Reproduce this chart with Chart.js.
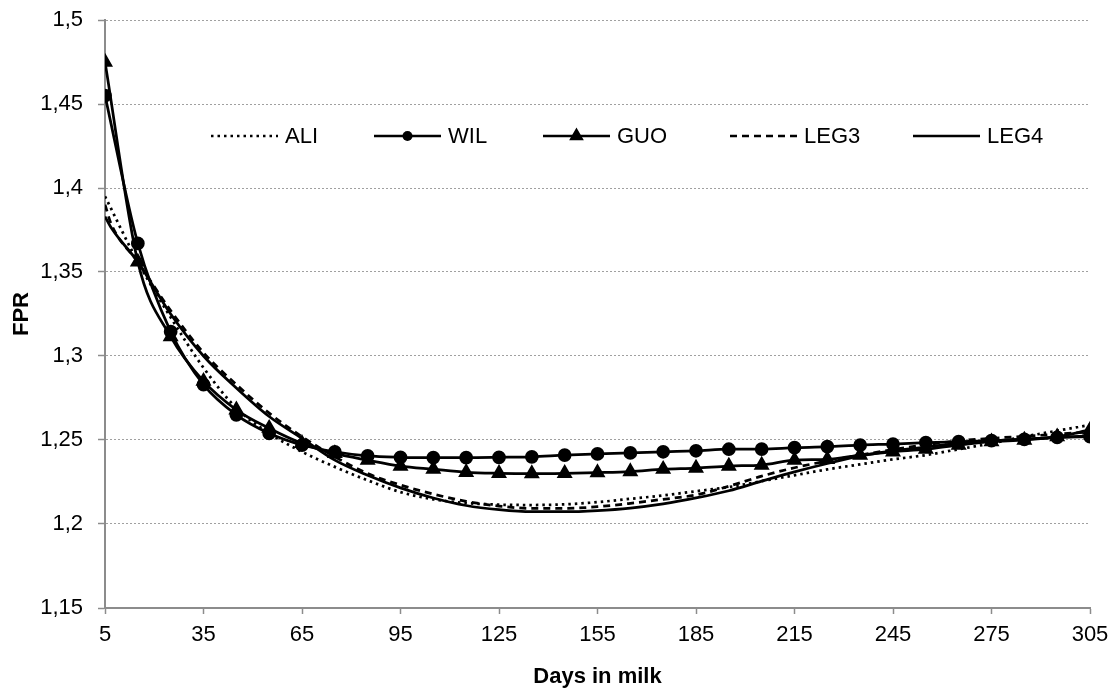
<!DOCTYPE html>
<html><head><meta charset="utf-8">
<script src="https://cdn.jsdelivr.net/npm/chart.js@4/dist/chart.umd.min.js"></script>
<style>html,body{margin:0;padding:0;background:#fff;}#wrap{width:1116px;height:693px;}</style>
</head><body><div id="wrap"><canvas id="c" width="1116" height="693"></canvas></div>
<script>
const days = [5,15,25,35,45,55,65,75,85,95,105,115,125,135,145,155,165,175,185,195,205,215,225,235,245,255,265,275,285,295,305];
const legDays = [5,7,15,25,35,45,55,65,75,85,95,105,115,125,135,145,155,165,175,185,195,205,215,225,235,245,255,265,275,285,295,305];
const xTicks = [5,35,65,95,125,155,185,215,245,275,305];
const yTicks = [1.15,1.2,1.25,1.3,1.35,1.4,1.45,1.5];
const yTickLabels = ['1,15','1,2','1,25','1,3','1,35','1,4','1,45','1,5'];
const seriesNames = ['ALI','WIL','GUO','LEG3','LEG4'];
const ALI = [1.395,1.356,1.323,1.293,1.269,1.254,1.243,1.234,1.226,1.219,1.2147,1.2125,1.2115,1.2113,1.2117,1.213,1.215,1.217,1.2195,1.222,1.2255,1.229,1.2325,1.2355,1.2385,1.241,1.2445,1.248,1.252,1.2555,1.259];
const WIL = [1.455,1.367,1.3145,1.283,1.265,1.254,1.247,1.243,1.2405,1.2397,1.2395,1.2395,1.2397,1.240,1.241,1.2417,1.2423,1.243,1.2436,1.2445,1.2446,1.2454,1.246,1.247,1.2476,1.2484,1.249,1.2496,1.2504,1.2516,1.252];
const GUO = [1.475,1.356,1.3115,1.285,1.268,1.257,1.248,1.242,1.238,1.2345,1.2326,1.2308,1.2302,1.230,1.2302,1.2306,1.2312,1.2326,1.2333,1.2345,1.2351,1.238,1.2385,1.241,1.243,1.2445,1.247,1.249,1.250,1.252,1.256];
const LEG3 = [1.390,1.378,1.356,1.327,1.302,1.283,1.266,1.252,1.240,1.230,1.2232,1.2178,1.2135,1.2107,1.2093,1.2093,1.2103,1.2123,1.2147,1.2173,1.2225,1.2285,1.2335,1.2375,1.241,1.2443,1.2472,1.2495,1.251,1.2522,1.2535,1.2548];
const LEG4 = [1.383,1.376,1.356,1.325,1.300,1.281,1.264,1.251,1.238,1.229,1.2215,1.2155,1.211,1.2085,1.2073,1.2073,1.208,1.2095,1.212,1.2155,1.2198,1.2255,1.231,1.236,1.2405,1.2435,1.2458,1.248,1.2495,1.2505,1.2515,1.2525];

const pts = (xs, ys) => xs.map((x,i)=>({x:x,y:ys[i]}));
const FONT = "'Liberation Sans',Arial,sans-serif";

const base = {borderColor:'#000', backgroundColor:'#000', borderWidth:2.75, fill:false, cubicInterpolationMode:'monotone', pointRadius:0};
const datasets = [
  Object.assign({}, base, {label:seriesNames[0], data:pts(days,ALI), borderDash:[2.5,4]}),
  Object.assign({}, base, {label:seriesNames[1], data:pts(days,WIL), pointRadius:5.5, pointStyle:'circle'}),
  Object.assign({}, base, {label:seriesNames[2], data:pts(days,GUO), pointRadius:6.5, pointStyle:'triangle'}),
  Object.assign({}, base, {label:seriesNames[3], data:pts(legDays,LEG3), borderDash:[7,5]}),
  Object.assign({}, base, {label:seriesNames[4], data:pts(legDays,LEG4)})
];

const legendPlugin = {
  id:'inlegend',
  afterDraw(chart){
    const ctx = chart.ctx;
    const starts = [211,374,543,730,913];
    const y = 136;
    ctx.save();
    chart.data.datasets.forEach((ds,i)=>{
      const x0 = starts[i], x1 = x0+67;
      ctx.strokeStyle = '#000'; ctx.lineWidth = 2.5;
      ctx.setLineDash(ds.borderDash || []);
      ctx.beginPath(); ctx.moveTo(x0,y); ctx.lineTo(x1,y); ctx.stroke();
      ctx.setLineDash([]);
      ctx.fillStyle='#000';
      if (ds.pointStyle === 'circle') {
        ctx.beginPath(); ctx.arc((x0+x1)/2, y, 5, 0, Math.PI*2); ctx.fill();
      } else if (ds.pointStyle === 'triangle') {
        Chart.helpers.drawPoint(ctx, {pointStyle:'triangle', radius:6, borderWidth:1}, (x0+x1)/2, y);
        ctx.fill();
      }
      ctx.font = "22px " + FONT;
      ctx.textBaseline = 'middle';
      ctx.textAlign = 'left';
      ctx.fillText(ds.label, x1+7, y+1);
    });
    ctx.restore();
  }
};

new Chart(document.getElementById('c'), {
  type:'line',
  data:{datasets:datasets},
  plugins:[legendPlugin],
  options:{
    responsive:false, animation:false,
    layout:{padding:{top:20,right:26,left:0,bottom:0}},
    plugins:{legend:{display:false}, tooltip:{enabled:false}},
    elements:{point:{borderWidth:1, hoverRadius:0}},
    scales:{
      x:{
        type:'linear', min:5, max:305,
        afterBuildTicks: s => { s.ticks = xTicks.map(v=>({value:v})); },
        afterFit: s => { s.height = 85; s.paddingLeft = 0; s.paddingRight = 0; },
        grid:{drawOnChartArea:false, drawTicks:true, tickLength:6, tickColor:'#8c8c8c', tickWidth:1.5},
        border:{display:true, color:'#8c8c8c', width:2},
        ticks:{color:'#000', font:{family:FONT, size:22}, padding:8, maxRotation:0, autoSkip:false},
        title:{display:true, text:'Days in milk', color:'#000', font:{family:FONT, size:22, weight:'bold'}, padding:{top:3,bottom:3}}
      },
      y:{
        min:1.15, max:1.5,
        afterBuildTicks: s => { s.ticks = yTicks.map(v=>({value:v})); },
        afterFit: s => { s.width = 105; s.paddingTop = 0; s.paddingBottom = 0; },
        grid:{drawOnChartArea:true, color:'#a0a0a0', lineWidth:1, drawTicks:true, tickLength:7, tickColor:'#8c8c8c', tickWidth:1.5},
        border:{display:true, color:'#8c8c8c', width:2, dash:[2,2]},
        ticks:{color:'#000', font:{family:FONT, size:22}, padding:15,
          callback:(v)=>{ const i = yTicks.findIndex(t=>Math.abs(t-v)<1e-9); return i>=0 ? yTickLabels[i] : ''; }},
        title:{display:true, text:'FPR', color:'#000', font:{family:FONT, size:22, weight:'bold'}, padding:{top:9,bottom:9}}
      }
    }
  }
});
</script></body></html>
